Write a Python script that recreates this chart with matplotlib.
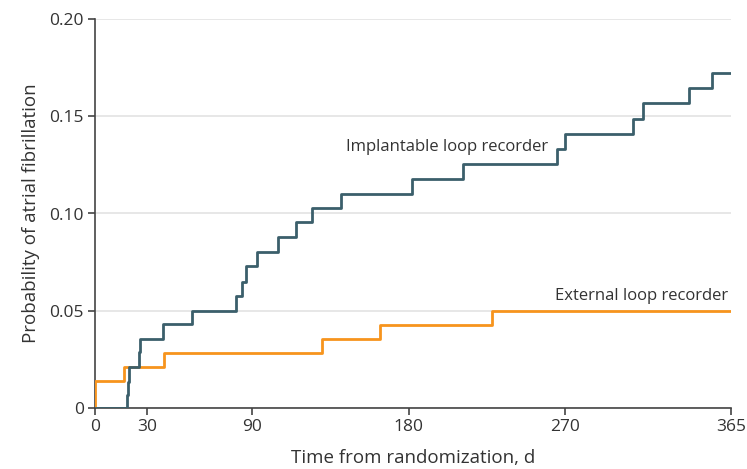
import matplotlib
matplotlib.use("Agg")
import matplotlib.pyplot as plt
from matplotlib import font_manager

names = {f.name for f in font_manager.fontManager.ttflist}
fam = [n for n in ["Liberation Sans Narrow", "Open Sans", "DejaVu Sans"] if n in names]
plt.rcParams['font.family'] = fam

# Data
ilr_days = [0, 18.2, 18.7, 19.5, 25.3, 25.8, 38.8, 55.9, 80.8, 84.2, 86.5, 92.8,
            105.0, 115.1, 124.7, 141.0, 181.7, 211.3, 265.4, 270.0, 309.0, 314.7,
            340.9, 353.9, 365]
ilr_prob = [0, 0.0068, 0.0135, 0.0213, 0.0290, 0.0357, 0.0432, 0.0500, 0.0577,
            0.0650, 0.0728, 0.0804, 0.0877, 0.0955, 0.1027, 0.1100, 0.1177, 0.1253,
            0.1330, 0.1407, 0.1486, 0.1567, 0.1647, 0.1724, 0.1724]

elr_days = [0, 0, 16.8, 39.6, 130.3, 163.6, 227.8, 365]
elr_prob = [0, 0.0139, 0.0212, 0.0284, 0.0355, 0.0427, 0.0500, 0.0500]

x_ticks = [0, 30, 90, 180, 270, 365]
y_ticks = [0, 0.05, 0.10, 0.15, 0.20]
y_tick_labels = ["0", "0.05", "0.10", "0.15", "0.20"]

ilr_color = "#3b5f6b"
elr_color = "#f7941d"
text_color = "#333333"

fig = plt.figure(figsize=(7.47, 4.69), dpi=100)
ax = fig.add_axes([95/747, 1-408/469, 636/747, 389/469])

ax.step(elr_days, elr_prob, where='post', color=elr_color, lw=2.0, zorder=3)
ax.step(ilr_days, ilr_prob, where='post', color=ilr_color, lw=2.0, zorder=4)

ax.set_xlim(0, 365)
ax.set_ylim(0, 0.20)
ax.set_xticks(x_ticks)
ax.set_xticklabels([str(t) for t in x_ticks])
ax.set_yticks(y_ticks)
ax.set_yticklabels(y_tick_labels)
ax.yaxis.grid(True, color="#e3e3e3", lw=1.2, zorder=0)
ax.set_axisbelow(True)

for s in ["top", "right"]:
    ax.spines[s].set_visible(False)
for s in ["left", "bottom"]:
    ax.spines[s].set_color("#444444")
    ax.spines[s].set_linewidth(1.2)
ax.tick_params(axis='both', direction='out', length=5, width=1.2, color="#444444",
               labelsize=12.5, labelcolor=text_color, pad=3)
ax.set_xlabel("Time from randomization, d", fontsize=13.5, color=text_color, labelpad=10)
ax.set_ylabel("Probability of atrial fibrillation", fontsize=13.5, color=text_color, labelpad=7)

ax.text(260, 0.134, "Implantable loop recorder", ha='right', va='center',
        fontsize=12, color=text_color)
ax.text(363.5, 0.0575, "External loop recorder", ha='right', va='center',
        fontsize=12, color=text_color)

fig.savefig("out.png", dpi=100)
